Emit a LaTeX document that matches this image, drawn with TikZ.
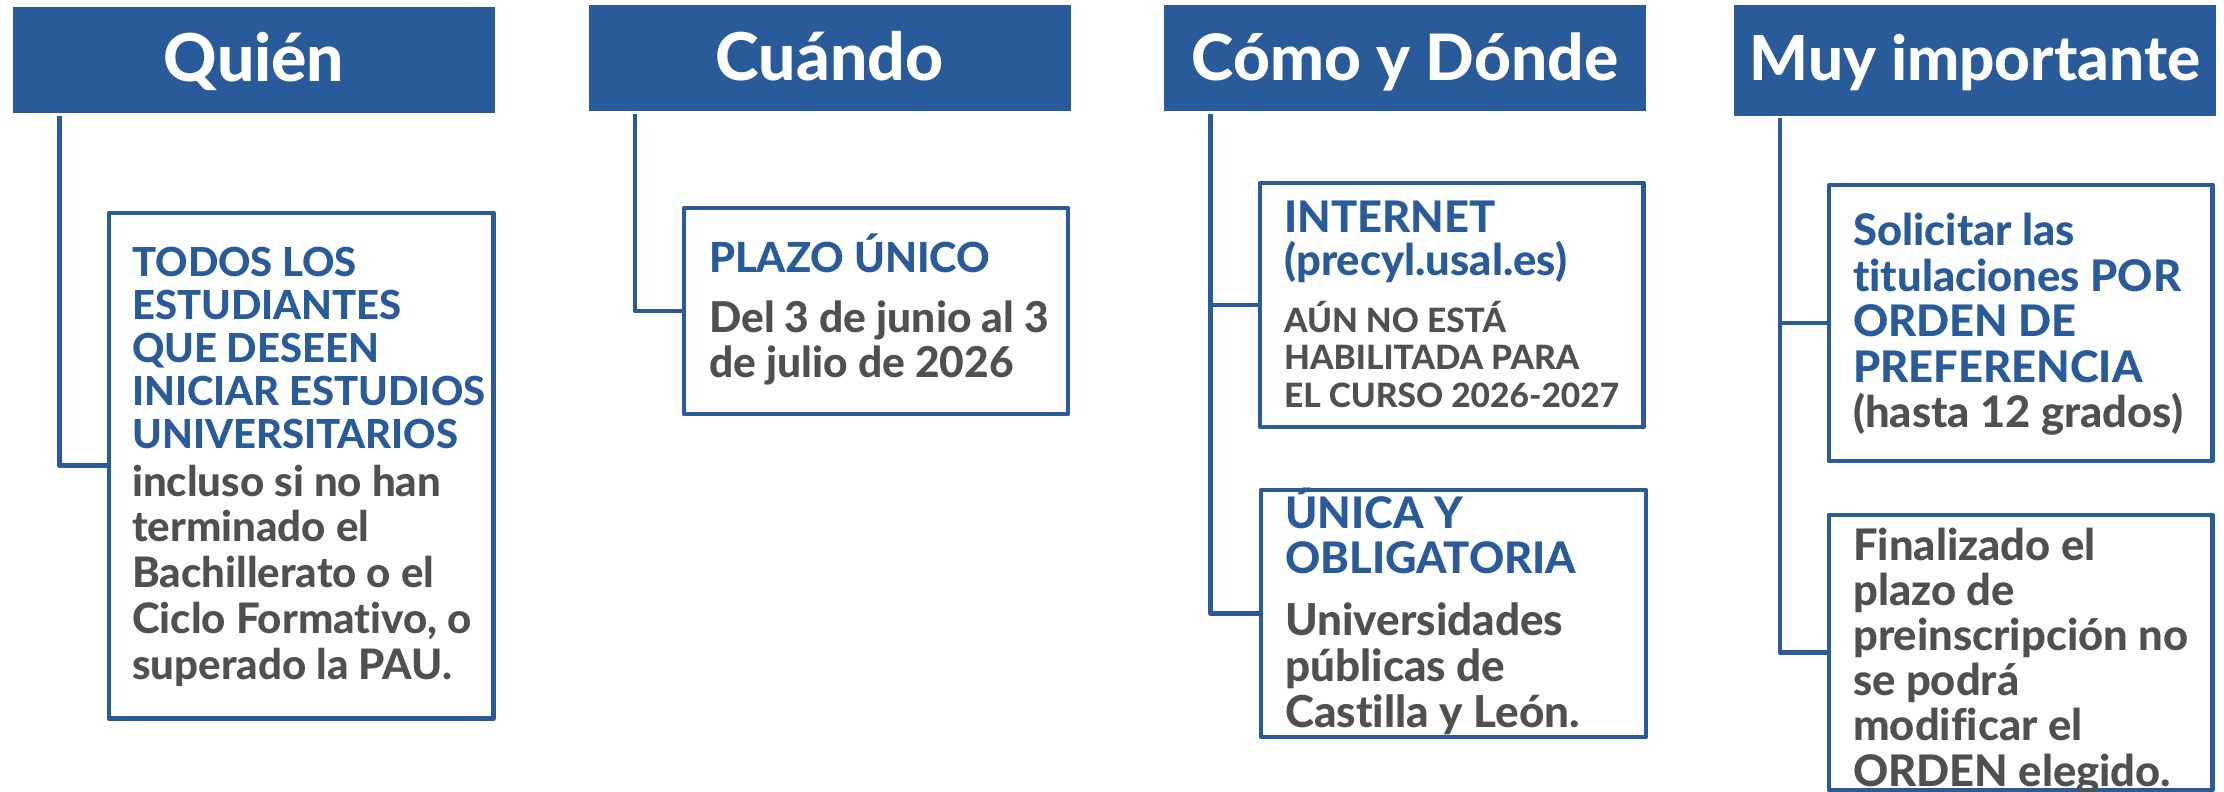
\documentclass[tikz,border=0pt]{standalone}
\usepackage{fontspec}
\IfFontExistsTF{Lato Heavy}
  {\setmainfont{Lato}[BoldFont={Lato Heavy}, Ligatures=NoCommon]}
  {\setmainfont{Lato}[BoldFont={Lato Bold}, Ligatures=NoCommon]}
\usetikzlibrary{positioning}
\definecolor{usalblue}{RGB}{41,90,153}
\definecolor{textgray}{RGB}{80,80,80}
\tikzset{
    x=1pt, y=-1pt, % one unit is one pixel of the sheet, y runs downwards
    header/.style={fill=usalblue, draw=none, text=white, anchor=north, inner sep=0pt,
        minimum width=482pt, text height=75pt, text depth=31pt,
        font=\bfseries\fontsize{66}{70}\selectfont},
    infobox/.style={draw=usalblue, line width=4.5pt, line join=round, inner sep=0pt},
    % texts are placed by the baseline of their last line
    bluetext/.style={text=usalblue, align=left, anchor=base west, inner sep=0pt,
        font=\bfseries\fontsize{43.5}{45.5}\selectfont},
    graytext/.style={text=textgray, align=left, anchor=base west, inner sep=0pt,
        font=\bfseries\fontsize{43.5}{45.5}\selectfont},
    link/.style={draw=usalblue, line width=4.5pt, line join=round},
}
\begin{document}
\begin{tikzpicture}
  \useasboundingbox (0,0) rectangle (2224,792);

  % column titles
  \node[header] (h_1) at (254,6.5) {Quién};
  \node[header] (h_2) at (829.5,5) {Cuándo};
  \node[header, font=\bfseries\fontsize{64}{68}\selectfont] (h_3) at (1405,5) {Cómo y Dónde};
  \node[header, text depth=36pt, font=\bfseries\fontsize{62}{66}\selectfont] (h_4) at (1975,5)
      {Muy importante};

  % boxes
  \node[infobox, minimum width=384.5pt, minimum height=505.5pt] (b_1) at (301.2,465.7) {};
  \node[infobox, minimum width=384pt, minimum height=206pt] (b_2) at (876,311) {};
  \node[infobox, minimum width=383.5pt, minimum height=244pt] (b_3a) at (1451.7,305) {};
  \node[infobox, minimum width=385pt, minimum height=247pt] (b_3b) at (1453.5,613.5) {};
  \node[infobox, minimum width=383.5pt, minimum height=276pt] (b_4a) at (2020.7,323) {};
  \node[infobox, minimum width=383.5pt, minimum height=275pt] (b_4b) at (2020.7,652.5) {};

  % texts
  \node[bluetext, font=\bfseries\fontsize{40}{43}\selectfont] (t_1a) at (132,448)
      {TODOS LOS\\ESTUDIANTES\\QUE DESEEN\\INICIAR ESTUDIOS\\UNIVERSITARIOS};
  \node[graytext, font=\bfseries\fontsize{42}{45.75}\selectfont] (t_1b) at (132,679)
      {incluso si no han\\terminado el\\Bachillerato o el\\Ciclo Formativo, o\\superado la PAU.};
  \node[bluetext, font=\bfseries\fontsize{41.5}{45}\selectfont] (t_2a) at (709,272) {PLAZO ÚNICO};
  \node[graytext, font=\bfseries\fontsize{42.5}{45}\selectfont] (t_2b) at (709,377)
      {Del 3 de junio al 3\\de julio de 2026};
  \node[bluetext, font=\bfseries\fontsize{43.5}{43}\selectfont] (t_3a) at (1284,275)
      {INTERNET\\(precyl.usal.es)};
  \node[graytext, font=\bfseries\fontsize{33.5}{37.3}\selectfont] (t_3b) at (1284,407)
      {AÚN NO ESTÁ\\HABILITADA PARA\\EL CURSO 2026-2027};
  \node[bluetext, font=\bfseries\fontsize{43.5}{45}\selectfont] (t_3c) at (1285,573)
      {ÚNICA Y\\OBLIGATORIA};
  \node[graytext, font=\bfseries\fontsize{44}{46}\selectfont] (t_3d) at (1285,727)
      {Universidades\\públicas de\\Castilla y León.};
  \node[bluetext] (t_4a) at (1853,382)
      {Solicitar las\\titulaciones POR\\ORDEN DE\\PREFERENCIA};
  \node[graytext] (t_4b) at (1853,427) {(hasta 12 grados)};
  \node[graytext, font=\bfseries\fontsize{43.5}{45.2}\selectfont] (t_4c) at (1853,786)
      {Finalizado el\\plazo de\\preinscripción no\\se podrá\\modificar el\\ORDEN elegido.};

  % connectors
  \coordinate (v_1) at ([xshift=46.5pt,yshift=-3pt]h_1.south west);
  \coordinate (v_2) at ([xshift=46.5pt,yshift=-3pt]h_2.south west);
  \coordinate (v_3) at ([xshift=46.5pt,yshift=-3pt]h_3.south west);
  \coordinate (v_4) at ([xshift=46pt,yshift=-2pt]h_4.south west);
  \draw[link] (v_1) |- (b_1.west);
  \draw[link] (v_2) |- (b_2.west);
  \draw[link] (v_3) |- (b_3b.west);
  \draw[link] (v_3 |- b_3a.west) -- (b_3a.west);
  \draw[link] (v_4) |- (b_4b.west);
  \draw[link] (v_4 |- b_4a.west) -- (b_4a.west);
\end{tikzpicture}
\end{document}
